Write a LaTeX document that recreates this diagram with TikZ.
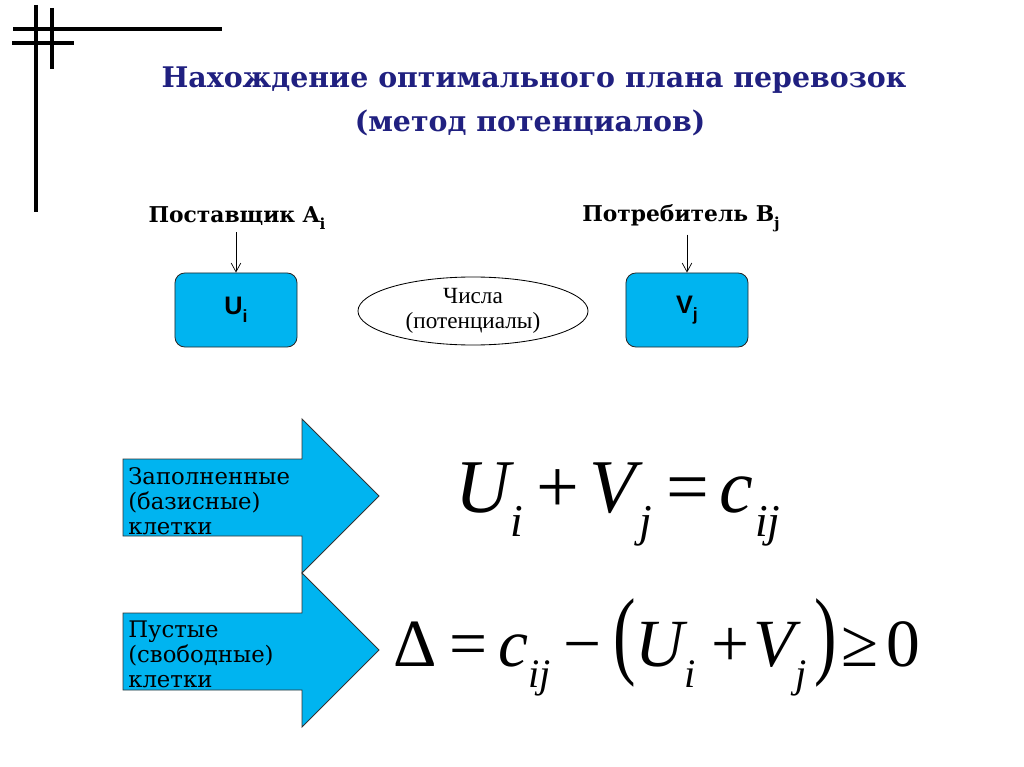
\documentclass[tikz,border=0pt]{standalone}
\usepackage{fontspec}
\setmainfont{Liberation Serif}
\newfontfamily\bookfont{DejaVu Serif}
\newfontfamily\sansfont{Liberation Sans}
\usepackage{graphicx}
\usepackage{tikz}
\usetikzlibrary{arrows.meta, positioning, shapes.geometric}
\definecolor{titleblue}{RGB}{32,32,128}
\definecolor{cellblue}{RGB}{0,180,240}
\tikzstyle{arrow} = [-{Straight Barb[length=2.2mm, width=2.4mm]}, line width=0.5pt, draw=black]
\tikzset{
    frameline/.style={line width=2.9pt, draw=black},
    titletext/.style={font=\bookfont\bfseries\fontsize{20.2}{24}\selectfont, text=titleblue},
    rolelabel/.style={font=\bookfont\bfseries\fontsize{15.5}{18}\selectfont, inner sep=2pt},
    potbox/.style={draw=black!85, fill=cellblue, rounded corners=7pt, line width=0.6pt,
        minimum width=3.05cm, minimum height=1.85cm,
        font=\sansfont\bfseries\fontsize{18}{20}\selectfont},
    potellipse/.style={ellipse, draw=black, line width=0.6pt, align=center,
        minimum width=5.75cm, minimum height=1.7cm, inner sep=0pt,
        font=\fontsize{16.5}{18}\selectfont},
    blockarrow/.style={draw=black!80, fill=cellblue, line width=0.6pt},
    cellnote/.style={font=\bookfont\fontsize{16.2}{17.8}\selectfont, align=left,
        anchor=north west, inner sep=0pt},
    formula/.style={anchor=base west, inner sep=0pt},
}
\newlength\unitpx
\setlength\unitpx{0.025cm}
\newcommand{\pxgap}[1]{\hspace{#1\unitpx}}
\newcommand{\lowsub}[1]{\raisebox{-0.32em}{\scalebox{0.6}{\itshape #1}}}
\newcommand{\boxsub}[1]{\raisebox{-0.3em}{\scalebox{0.7}{#1}}}

\begin{document}
\begin{tikzpicture}[x=0.025cm, y=-0.025cm]
    \useasboundingbox (0,0) rectangle (1024,767);

    % corner frame
    \draw[frameline] (36,5) -- (36,212);
    \draw[frameline] (52,8) -- (52,69);
    \draw[frameline] (13,29) -- (222,29);
    \draw[frameline] (12,43) -- (74,43);

    % title
    \node[titletext] (title) at (534,80) {Нахождение оптимального плана перевозок};
    \node[titletext] (subtitle) at (530,123) {(метод потенциалов)};

    % supplier and consumer
    \node[rolelabel] (supplier) at (237,218) {Поставщик A\boxsub{i}};
    \node[rolelabel] (consumer) at (681,218) {Потребитель B\boxsub{j}};
    \node[potbox] (ubox) at (236,310) {U\boxsub{i}};
    \node[potbox] (vbox) at (687,310) {V\boxsub{j}};
    \node[potellipse] (potentials) at (473,311) {Числа\\(потенциалы)};
    \draw[arrow] (supplier.south -| ubox.north) -- (ubox.north);
    \draw[arrow] (consumer.south -| vbox.north) -- (vbox.north);

    % filled cells
    \draw[blockarrow] (123,459) -- (302,459) -- (302,419) -- (379,496)
        -- (302,573) -- (302,536) -- (123,536) -- cycle;
    \node[cellnote] (filled) at (128,467) {Заполненные\\(базисные)\\клетки};
    \node[formula, font=\fontsize{54}{60}\selectfont] (balance) at (455,512)
        {\itshape U\lowsub{i}\pxgap{14}\upshape+\pxgap{10}\itshape V\pxgap{4}\lowsub{j}%
        \pxgap{14}\upshape=\pxgap{10}\itshape c\pxgap{2}\lowsub{ij}};

    % empty cells
    \draw[blockarrow] (123,613) -- (302,613) -- (302,573) -- (379,650)
        -- (302,727) -- (302,690) -- (123,690) -- cycle;
    \node[cellnote] (empty) at (128,621) {Пустые\\(свободные)\\клетки};
    \node[formula, font=\fontsize{48}{52}\selectfont] (estimate) at (393,666)
        {Δ\pxgap{13}=\pxgap{11}\itshape c\lowsub{ij}\pxgap{12}\upshape−\pxgap{12}%
        \scalebox{1}[1.45]{(}\itshape U\lowsub{i}\pxgap{16}\upshape+\pxgap{4}%
        \itshape V\lowsub{j}\pxgap{8}\upshape\scalebox{1}[1.45]{)}\pxgap{5}≥\pxgap{8}0};
\end{tikzpicture}
\end{document}
